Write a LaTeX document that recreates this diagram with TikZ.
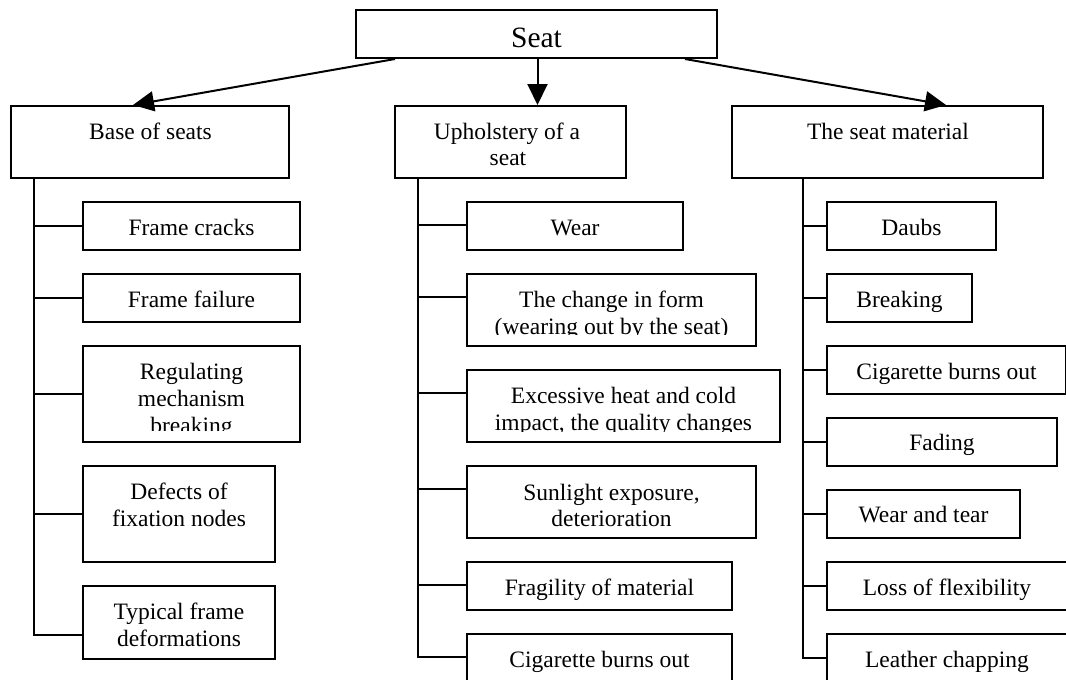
\documentclass[tikz,border=0pt]{standalone}
\usepackage{fontspec}
\setmainfont{Liberation Serif}
\usetikzlibrary{arrows.meta,calc,fit}
\begin{document}
\begin{tikzpicture}[x=0.5pt,y=-0.5pt,
  box/.style={draw,line width=1pt,inner sep=0pt,rectangle},
  txt/.style={inner sep=0pt,anchor=base,font=\fontsize{11.75}{14}\selectfont},
  bigtxt/.style={inner sep=0pt,anchor=base,font=\fontsize{14.75}{17}\selectfont},
  ln/.style={line width=1pt},
  arr/.style={line width=1pt,-{Triangle[length=10.5pt,width=10pt]}}]
\clip (0,0) rectangle (1066,680);
\fill[white] (0,0) rectangle (1066,680);

% top level
\node[box,fit={(356,10)(717,58)}] (seat) {};
\node[bigtxt] (tseat) at (536.5,47) {Seat};

\node[box,fit={(11,106)(289,178)}] (base) {};
\node[txt] (tbase) at (150.5,139) {Base of seats};
\node[box,fit={(395,106)(626,178)}] (uph) {};
\node[txt] (tupha) at (507,139) {Upholstery of a};
\node[txt] (tuphb) at (508,165) {seat};
\node[box,fit={(732,106)(1043,178)}] (mat) {};
\node[txt] (tmat) at (888,139) {The seat material};

\draw[arr] ($(seat.south west)+(40,0)$) -- ($(base.north west)+(123,0)$);
\draw[arr] ($(seat.south west)+(182.5,0)$) -- ($(uph.north west)+(143.5,0)$);
\draw[arr] ($(seat.south east)+(-33,0)$) -- ($(mat.north west)+(215,0)$);

% left column
\node[box,fit={(83,202)(300,250)}] (a1) {};
\node[txt] (ta1) at (191.5,235) {Frame cracks};
\node[box,fit={(83,274)(300,322)}] (a2) {};
\node[txt] (ta2) at (191.5,307) {Frame failure};
\node[box,fit={(83,346)(300,442)}] (a3) {};
\node[txt] (ta3a) at (191.5,379) {Regulating};
\node[txt] (ta3b) at (191.5,406) {mechanism};
\begin{scope}
\clip (83,346) rectangle (300,430);
\node[txt] (ta3c) at (191.5,433) {breaking};
\end{scope}
\node[box,fit={(83,466)(275,562)}] (a4) {};
\node[txt] (ta4a) at (179,499) {Defects of};
\node[txt] (ta4b) at (179,526) {fixation nodes};
\node[box,fit={(83,586)(275,659)}] (a5) {};
\node[txt] (ta5a) at (179,619) {Typical frame};
\node[txt] (ta5b) at (179,646) {deformations};

\coordinate (s1) at ($(base.south west)+(24,0)$);
\coordinate (a5in) at ($(a5.south west)+(0,-25)$);
\draw[ln] (s1) -- (a5in -| s1) -- (a5in);
\foreach \b in {a1,a2,a3,a4} \draw[ln] (\b.west) -- (\b.west -| s1);

% middle column
\node[box,fit={(467,202)(683,250)}] (b1) {};
\node[txt] (tb1) at (575,235) {Wear};
\node[box,fit={(467,274)(756,346)}] (b2) {};
\node[txt] (tb2a) at (611.5,307) {The change in form};
\begin{scope}
\clip (467,274) rectangle (756,334.5);
\node[txt] (tb2b) at (611.5,334) {(wearing out by the seat)};
\end{scope}
\node[box,fit={(467,370)(780,442)}] (b3) {};
\node[txt] (tb3a) at (623.5,403) {Excessive heat and cold};
\begin{scope}
\clip (467,370) rectangle (780,431);
\node[txt] (tb3b) at (623.5,430) {impact, the quality changes};
\end{scope}
\node[box,fit={(467,466)(756,538)}] (b4) {};
\node[txt] (tb4a) at (611.5,500) {Sunlight exposure,};
\node[txt] (tb4b) at (611.5,526) {deterioration};
\node[box,fit={(467,562)(732,610)}] (b5) {};
\node[txt] (tb5) at (599.5,595) {Fragility of material};
\node[box,fit={(467,634)(732,682)}] (b6) {};
\node[txt] (tb6) at (599.5,667) {Cigarette burns out};

\coordinate (s2) at ($(uph.south west)+(24,0)$);
\coordinate (b6in) at ($(b6.north west)+(0,24)$);
\draw[ln] (s2) -- (b6in -| s2) -- (b6in);
\foreach \b in {b1,b2,b3,b4,b5} {
  \coordinate (\b in) at ($(\b.north west)+(0,24)$);
  \draw[ln] (\b in) -- (\b in -| s2);
}

% right column
\node[box,fit={(827,202)(996,250)}] (c1) {};
\node[txt] (tc1) at (911.5,235) {Daubs};
\node[box,fit={(827,274)(972,322)}] (c2) {};
\node[txt] (tc2) at (899.5,307) {Breaking};
\node[box,fit={(827,346)(1066,394)}] (c3) {};
\node[txt] (tc3) at (946.5,379) {Cigarette burns out};
\node[box,fit={(827,418)(1057,466)}] (c4) {};
\node[txt] (tc4) at (942,450) {Fading};
\node[box,fit={(827,490)(1020,538)}] (c5) {};
\node[txt] (tc5) at (923.5,522) {Wear and tear};
\node[box,fit={(827,562)(1067,610)}] (c6) {};
\node[txt] (tc6) at (947,595) {Loss of flexibility};
\node[box,fit={(827,634)(1067,682)}] (c7) {};
\node[txt] (tc7) at (947,667) {Leather chapping};

\coordinate (s3) at ($(mat.south west)+(71.5,0)$);
\draw[ln] (s3) -- (c7.west -| s3) -- (c7.west);
\foreach \b in {c1,c2,c3,c4,c5,c6} \draw[ln] (\b.west) -- (\b.west -| s3);
\end{tikzpicture}
\end{document}
